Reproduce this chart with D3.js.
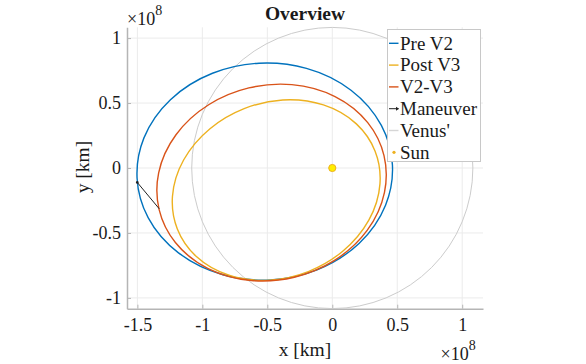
<!DOCTYPE html>
<html>
<head>
<meta charset="utf-8">
<script src="https://cdn.jsdelivr.net/npm/d3@7"></script>
<style>
  html, body { margin: 0; padding: 0; background: #ffffff; }
  svg { display: block; }
  text { font-family: "Liberation Serif", "Times New Roman", serif; fill: #1a1a1a; }
</style>
</head>
<body>
<svg id="chart" width="586" height="364"></svg>
<script>
// ---- data (units of 1e8 km) ----
const orbitNames = ["Pre V2", "Post V3", "V2-V3"];
const orbitColors = ["#0072BD", "#EDB120", "#D95319"];
const orbitSemiMajor = [0.984, 0.818, 0.890];      // a
const orbitEccentricity = [0.529, 0.567, 0.540];   // e
const orbitPeriapsisDeg = [3.0, 21.5, 13.5];       // argument of periapsis
const venusRadius = 1.082;
const sunPos = [0, 0];
const maneuverStart = [-1.501, -0.111];
const maneuverEnd = [-1.332, -0.314];
const xTicks = [-1.5, -1, -0.5, 0, 0.5, 1];
const xTickLabels = ["-1.5", "-1", "-0.5", "0", "0.5", "1"];
const yTicks = [-1, -0.5, 0, 0.5, 1];
const yTickLabels = ["-1", "-0.5", "0", "0.5", "1"];
const legendNames = ["Pre V2", "Post V3", "V2-V3", "Maneuver", "Venus'", "Sun"];

const SERIF = "Liberation Serif, Times New Roman, serif";
const svg = d3.select("#chart");
const x = d3.scaleLinear().domain([-1.58, 1.16]).range([127, 483]);
const y = d3.scaleLinear().domain([-1.083, 1.083]).range([308.7, 27.3]);
const k = x(1) - x(0);

// grid
const grid = svg.append("g");
grid.selectAll("line.gx").data(xTicks).enter().append("line")
  .attr("x1", d => x(d)).attr("x2", d => x(d))
  .attr("y1", y.range()[0]).attr("y2", y.range()[1])
  .attr("stroke", "#ebebeb").attr("stroke-width", 1);
grid.selectAll("line.gy").data(yTicks).enter().append("line")
  .attr("y1", d => y(d)).attr("y2", d => y(d))
  .attr("x1", x.range()[0]).attr("x2", x.range()[1])
  .attr("stroke", "#ebebeb").attr("stroke-width", 1);

// axes
const xAxis = d3.axisBottom(x).tickValues(xTicks)
  .tickFormat((d, i) => xTickLabels[i]).tickSizeInner(-4).tickSizeOuter(0).tickPadding(10);
const yAxis = d3.axisLeft(y).tickValues(yTicks)
  .tickFormat((d, i) => yTickLabels[i]).tickSizeInner(-4).tickSizeOuter(0).tickPadding(6);
const gx = svg.append("g").attr("transform", `translate(0,${y.range()[0]})`).call(xAxis);
const gy = svg.append("g").attr("transform", `translate(${x.range()[0]},0)`).call(yAxis);
[gx, gy].forEach(g => {
  g.attr("font-family", SERIF).attr("font-size", 18);
  g.select(".domain").attr("stroke", "#b5b5b5").attr("stroke-width", 1.5);
  g.selectAll(".tick line").attr("stroke", "#b5b5b5").attr("stroke-width", 1);
  g.selectAll(".tick text").attr("font-family", SERIF).attr("font-size", 18).attr("fill", "#1a1a1a");
});

// Venus orbit
svg.append("circle")
  .attr("cx", x(sunPos[0])).attr("cy", y(sunPos[1]))
  .attr("r", venusRadius * k)
  .attr("fill", "none").attr("stroke", "#cccccc").attr("stroke-width", 1);

// spacecraft orbits (sun at focus)
orbitNames.forEach((name, i) => {
  const a = orbitSemiMajor[i], e = orbitEccentricity[i];
  const w = orbitPeriapsisDeg[i] * Math.PI / 180;
  const b = a * Math.sqrt(1 - e * e);
  const cxD = -a * e * Math.cos(w), cyD = -a * e * Math.sin(w);
  svg.append("ellipse")
    .attr("cx", x(cxD)).attr("cy", y(cyD))
    .attr("rx", a * k).attr("ry", b * k)
    .attr("transform", `rotate(${-orbitPeriapsisDeg[i]},${x(cxD)},${y(cyD)})`)
    .attr("fill", "none").attr("stroke", orbitColors[i]).attr("stroke-width", 1.4);
});

// maneuver arrow
svg.append("line")
  .attr("x1", x(maneuverStart[0])).attr("y1", y(maneuverStart[1]))
  .attr("x2", x(maneuverEnd[0])).attr("y2", y(maneuverEnd[1]))
  .attr("stroke", "#222").attr("stroke-width", 1);
svg.append("circle").attr("cx", x(maneuverStart[0])).attr("cy", y(maneuverStart[1]))
  .attr("r", 1.3).attr("fill", "#222");

// sun
svg.append("circle")
  .attr("cx", x(sunPos[0])).attr("cy", y(sunPos[1])).attr("r", 3.6)
  .attr("fill", "#ffee00").attr("stroke", "#EDB120").attr("stroke-width", 1);

// title & labels
svg.append("text").attr("x", 305).attr("y", 19.5).attr("text-anchor", "middle")
  .attr("font-size", 19.5).attr("font-weight", "bold").text("Overview");
svg.append("text").attr("x", 305).attr("y", 356).attr("text-anchor", "middle")
  .attr("font-size", 19.5).text("x [km]");
svg.append("text").attr("transform", "translate(89,167) rotate(-90)").attr("text-anchor", "middle")
  .attr("font-size", 19.5).text("y [km]");

// exponent labels
function expLabel(xPos, yBase) {
  const t = svg.append("text").attr("x", xPos).attr("y", yBase).attr("font-size", 18);
  t.append("tspan").text("\u00d710");
  t.append("tspan").attr("dy", -10).attr("font-size", 14).text("8");
}
expLabel(127, 24.5);
expLabel(440.5, 360);

// legend
const lg = svg.append("g");
lg.append("rect").attr("x", 387.5).attr("y", 29.5).attr("width", 93).attr("height", 132)
  .attr("fill", "#ffffff").attr("stroke", "#c8c8c8").attr("stroke-width", 1);
const legendColors = [orbitColors[0], orbitColors[1], orbitColors[2], "#222", "#d6d6d6", "#EDB120"];
legendNames.forEach((name, i) => {
  const cy = 43.3 + i * 21.8;
  if (i < 5) {
    lg.append("line").attr("x1", 389).attr("x2", 398.5).attr("y1", cy).attr("y2", cy)
      .attr("stroke", legendColors[i]).attr("stroke-width", i === 3 ? 1 : 1.4);
    if (i === 3) {
      lg.append("path").attr("d", `M399,${cy} l-3,-2 l0,4 Z`).attr("fill", "#222");
    }
  } else {
    lg.append("circle").attr("cx", 394).attr("cy", cy).attr("r", 1.6).attr("fill", "#EDB120");
  }
  lg.append("text").attr("x", 400).attr("y", cy + 6.3).attr("font-size", 19).text(name);
});
</script>
</body>
</html>
